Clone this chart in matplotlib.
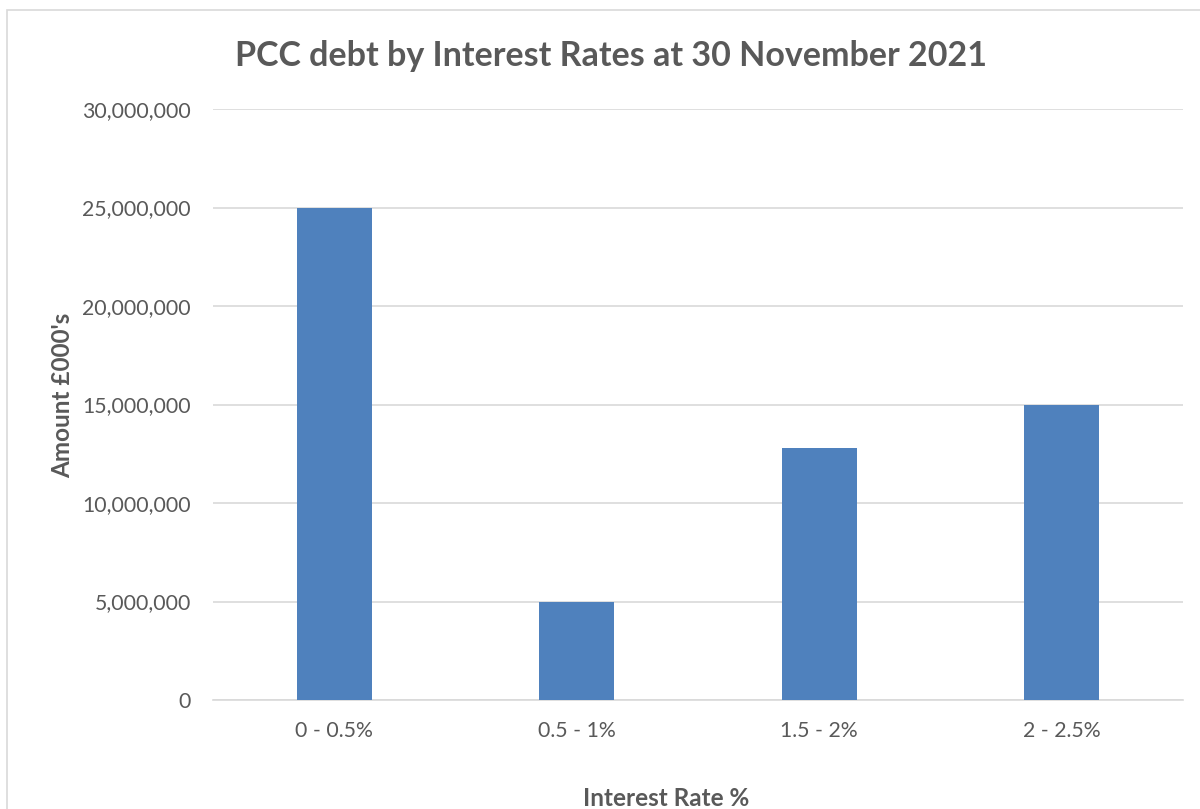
import matplotlib
matplotlib.use("Agg")
import matplotlib.pyplot as plt
from matplotlib.ticker import FuncFormatter, MultipleLocator
from matplotlib.patches import Rectangle

categories = ["0 - 0.5%", "0.5 - 1%", "1.5 - 2%", "2 - 2.5%"]
amounts = [25000000, 5000000, 12800000, 15000000]

title = "PCC debt by Interest Rates at 30 November 2021"
xlabel = "Interest Rate %"
ylabel = "Amount £000's"

plt.rcParams['font.family'] = ['Lato', 'DejaVu Sans']
txt = "#595959"

fig = plt.figure(figsize=(12, 8.09), dpi=100)
fig.patch.set_facecolor("white")
# chart frame
fig.add_artist(Rectangle((7/1200, -0.1), 1.2, 1 - 10/809 + 0.1, transform=fig.transFigure,
                         fill=False, edgecolor="#d9d9d9", linewidth=1.2))

ax = fig.add_axes([213/1200, 1 - 700/809, (1183 - 213)/1200, (700 - 109)/809])
x = list(range(len(categories)))
ax.bar(x, amounts, width=0.31, color="#4f81bd", zorder=3)
ax.set_xlim(-0.5, len(categories) - 0.5)
ax.set_ylim(0, 30000000)
ax.yaxis.set_major_locator(MultipleLocator(5000000))
ax.yaxis.set_major_formatter(FuncFormatter(lambda v, p: f"{int(v):,}"))
ax.set_xticks(x)
ax.set_xticklabels(categories)
ax.grid(axis="y", color="#d9d9d9", linewidth=1.2, zorder=0)
for s in ["top", "right", "left"]:
    ax.spines[s].set_visible(False)
ax.spines["bottom"].set_color("#d9d9d9")
ax.spines["bottom"].set_linewidth(1.2)
ax.tick_params(axis="both", length=0, labelsize=15.3, labelcolor=txt)
ax.tick_params(axis="y", pad=16)
ax.tick_params(axis="x", pad=15)

fig.text(611/1200, 1 - 56/809, title, ha="center", va="center", fontsize=24.5,
         fontweight="bold", color=txt)
fig.text(666/1200, 1 - 798/809, xlabel, ha="center", va="center", fontsize=17.5,
         fontweight="bold", color=txt)
fig.text(63/1200, 1 - 395/809, ylabel, ha="center", va="center", fontsize=17.5,
         fontweight="bold", color=txt, rotation=90)

fig.savefig("out.png", dpi=100, facecolor="white")
